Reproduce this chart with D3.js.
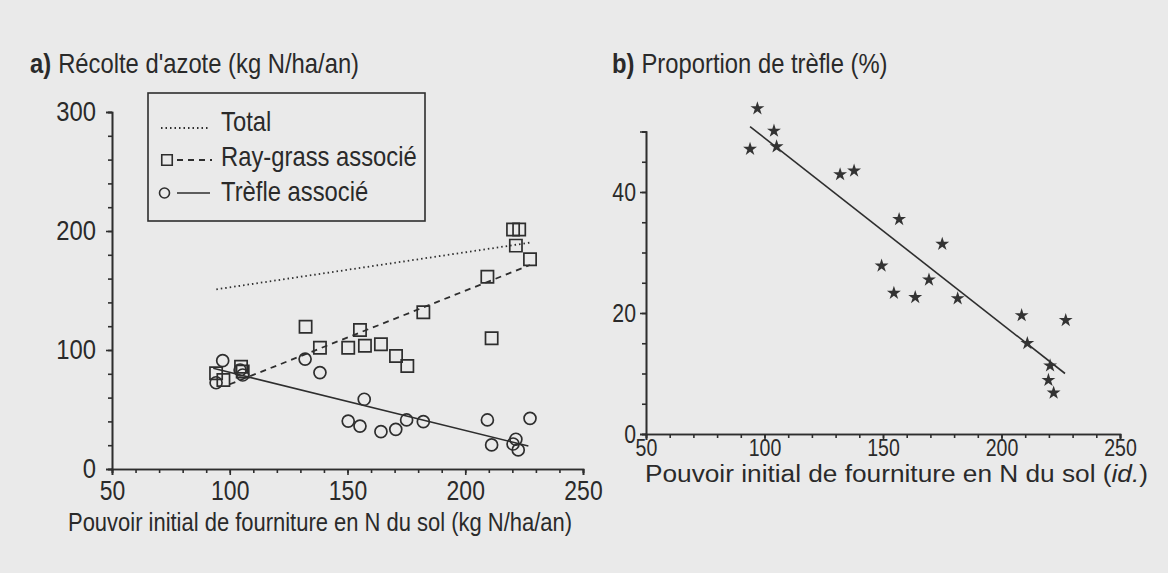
<!DOCTYPE html>
<html>
<head>
<meta charset="utf-8">
<script src="https://cdn.jsdelivr.net/npm/d3@7"></script>
<style>
  body { margin: 0; background: #eaeaea; }
  svg { display: block; }
  text { fill: #2a2a2a; font-family: "Liberation Sans", Arial, sans-serif; }
</style>
</head>
<body>
<svg id="chart" width="1168" height="573"></svg>
<script>
// panel a : nitrogen harvested (kg N/ha/an) vs initial soil N supply
const rayX = [94.2, 97.3, 104.8, 105.5, 132.2, 138.3, 150.3, 155.3, 157.4, 164.2, 170.6, 175.4, 182.2, 209.4, 211.2, 220.3, 221.5, 222.9, 227.5];
const rayY = [80.4, 74.8, 86, 82, 119.6, 101.9, 101.9, 116.8, 103.6, 104.8, 95, 86.6, 131.7, 161.6, 109.8, 201.3, 187.7, 201.3, 176.2];
const trefleX = [94.2, 97, 104.4, 105.5, 132, 138.3, 150.3, 155.3, 157.1, 164.2, 170.5, 175.1, 182.2, 209.4, 211.2, 220.3, 221.5, 222.5, 227.5];
const trefleY = [72.5, 91, 83.2, 79, 92.4, 81, 40.3, 36.1, 58.6, 31.4, 33.3, 41.2, 39.8, 41.2, 20.2, 21, 25, 16, 42.6];
// fitted lines, read as end points
const totalFit = [[94.3, 151], [227.5, 190.2]];
const rayFit = [[100, 71.2], [227.5, 171.4]];
const trefleFit = [[93, 84.6], [226.8, 19.3]];

// panel b : clover proportion (%)
const propX = [97, 93.9, 104, 105.1, 131.9, 137.8, 156.8, 149.4, 154.6, 163.6, 169.4, 175, 181.5, 208.5, 210.9, 227.1, 220.5, 219.8, 222];
const propY = [53.8, 47.1, 50.1, 47.5, 42.9, 43.5, 35.5, 27.8, 23.3, 22.6, 25.5, 31.4, 22.4, 19.6, 15, 18.8, 11.3, 8.9, 6.8];
const propFit = [[93.9, 50.8], [226.8, 10.0]];

const xTicks = d3.range(50, 251, 10);
const xLabels = [50, 100, 150, 200, 250];
const yTicksA = d3.range(0, 301, 20);
const yLabelsA = [0, 100, 200, 300];
const yTicksB = d3.range(0, 51, 5);
const yLabelsB = [0, 20, 40];

const ink = "#2e2e2e";
const svg = d3.select("#chart");

// scales
let xA = d3.scaleLinear().domain([50, 250]).range([112, 583]),
    yA = d3.scaleLinear().domain([0, 300]).range([469, 112]);
let xB = d3.scaleLinear().domain([50, 250]).range([646, 1120]),
    yB = d3.scaleLinear().domain([0, 50]).range([434, 131.5]);

function drawAxes(x, y, yTicks, yLabels, xPad, yPad, fsx, fsy) {
    let y0 = y.range()[0], x0 = x.range()[0];
    // minor ticks
    svg.append("g").attr("transform", "translate(0," + y0 + ")")
        .call(d3.axisBottom(x).tickValues(xTicks).tickSize(4).tickFormat(""));
    svg.append("g").attr("transform", "translate(" + x0 + ",0)")
        .call(d3.axisLeft(y).tickValues(yTicks).tickSize(4).tickFormat(""));
    // labelled ticks
    svg.append("g").attr("transform", "translate(0," + y0 + ")")
        .call(d3.axisBottom(x).tickValues(xLabels).tickSize(6).tickPadding(xPad).tickFormat(d3.format("d")))
        .call(g => g.selectAll("text").style("font-size", fsx + "px"));
    svg.append("g").attr("transform", "translate(" + x0 + ",0)")
        .call(d3.axisLeft(y).tickValues(yLabels).tickSize(6).tickPadding(yPad).tickFormat(d3.format("d")))
        .call(g => g.selectAll("text").style("font-size", fsy + "px"));
    svg.selectAll(".domain, .tick line").attr("stroke", ink).attr("stroke-width", 1.6);
}

drawAxes(xA, yA, yTicksA, yLabelsA, 6, 10, 27, 28);
drawAxes(xB, yB, yTicksB, yLabelsB, 0, 4, 23, 25);

let line = (x, y) => d3.line().x(d => x(d[0])).y(d => y(d[1]));

// panel a fitted lines
svg.append("path").attr("d", line(xA, yA)(totalFit))
    .attr("fill", "none").attr("stroke", ink).attr("stroke-width", 1.8).attr("stroke-dasharray", "1.5,3");
svg.append("path").attr("d", line(xA, yA)(rayFit))
    .attr("fill", "none").attr("stroke", ink).attr("stroke-width", 1.8).attr("stroke-dasharray", "6,5");
svg.append("path").attr("d", line(xA, yA)(trefleFit))
    .attr("fill", "none").attr("stroke", ink).attr("stroke-width", 1.5);

// squares: Ray-grass
svg.selectAll("rect.ray")
    .data(d3.zip(rayX, rayY))
    .enter()
    .append("path")
    .attr("transform", d => "translate(" + xA(d[0]) + "," + yA(d[1]) + ")")
    .attr("d", d3.symbol(d3.symbolSquare, 150))
    .attr("fill", "none").attr("stroke", ink).attr("stroke-width", 1.7);

// circles: Trèfle
svg.selectAll("circle.trefle")
    .data(d3.zip(trefleX, trefleY))
    .enter()
    .append("circle")
    .attr("cx", d => xA(d[0])).attr("cy", d => yA(d[1])).attr("r", 6)
    .attr("fill", "none").attr("stroke", ink).attr("stroke-width", 1.7);

// panel b
svg.append("path").attr("d", line(xB, yB)(propFit))
    .attr("fill", "none").attr("stroke", ink).attr("stroke-width", 1.6);
svg.selectAll("path.star")
    .data(d3.zip(propX, propY))
    .enter()
    .append("path")
    .attr("transform", d => "translate(" + xB(d[0]) + "," + yB(d[1]) + ")")
    .attr("d", d3.symbol(d3.symbolStar, 60))
    .attr("fill", "#333");

// legend
let legend = svg.append("g");
legend.append("rect").attr("x", 148).attr("y", 93).attr("width", 277).attr("height", 128)
    .attr("fill", "none").attr("stroke", ink).attr("stroke-width", 1.6);
legend.append("line").attr("x1", 161).attr("x2", 209).attr("y1", 128).attr("y2", 128)
    .attr("stroke", ink).attr("stroke-width", 1.8).attr("stroke-dasharray", "1.5,3");
legend.append("path").attr("transform", "translate(167,160)").attr("d", d3.symbol(d3.symbolSquare, 110))
    .attr("fill", "none").attr("stroke", ink).attr("stroke-width", 1.6);
legend.append("line").attr("x1", 177).attr("x2", 212).attr("y1", 160).attr("y2", 160)
    .attr("stroke", ink).attr("stroke-width", 1.8).attr("stroke-dasharray", "6,5");
legend.append("circle").attr("cx", 164.5).attr("cy", 193).attr("r", 5)
    .attr("fill", "none").attr("stroke", ink).attr("stroke-width", 1.6);
legend.append("line").attr("x1", 177).attr("x2", 210).attr("y1", 193).attr("y2", 193)
    .attr("stroke", ink).attr("stroke-width", 1.6);
legend.selectAll("text.leg")
    .data([["Total", 131], ["Ray-grass associé", 166], ["Trèfle associé", 201]])
    .enter()
    .append("text")
    .attr("x", 221).attr("y", d => d[1])
    .style("font-size", "28px")
    .text(d => d[0]);

// the printed font is condensed: squeeze every text drawn so far
const squeeze = 0.85;
function condense(sel) {
    sel.each(function() {
        let n = this.getComputedTextLength();
        if (n > 0) d3.select(this).attr("textLength", n * squeeze).attr("lengthAdjust", "spacingAndGlyphs");
    });
}
condense(svg.selectAll("text"));

// titles: bold letter and the rest as two texts
function title(x, letter, rest) {
    let b = svg.append("text").attr("x", x).attr("y", 73).style("font-size", "28px")
        .style("font-weight", "bold").text(letter);
    let w = b.node().getComputedTextLength() * squeeze;
    condense(b);
    let t = svg.append("text").attr("x", x + w + 7).attr("y", 73).style("font-size", "28px").text(rest);
    condense(t);
}
title(30, "a)", "Récolte d'azote (kg N/ha/an)");
title(612, "b)", "Proportion de trèfle (%)");

// axis titles
svg.append("text").attr("x", 68).attr("y", 531).style("font-size", "26px")
    .attr("textLength", 504).attr("lengthAdjust", "spacingAndGlyphs")
    .text("Pouvoir initial de fourniture en N du sol (kg N/ha/an)");
let tb = svg.append("text").attr("x", 645).attr("y", 482).style("font-size", "23px")
    .attr("textLength", 503).attr("lengthAdjust", "spacingAndGlyphs");
tb.append("tspan").text("Pouvoir initial de fourniture en N du sol (");
tb.append("tspan").style("font-style", "italic").text("id.");
tb.append("tspan").text(")");
</script>
</body>
</html>
